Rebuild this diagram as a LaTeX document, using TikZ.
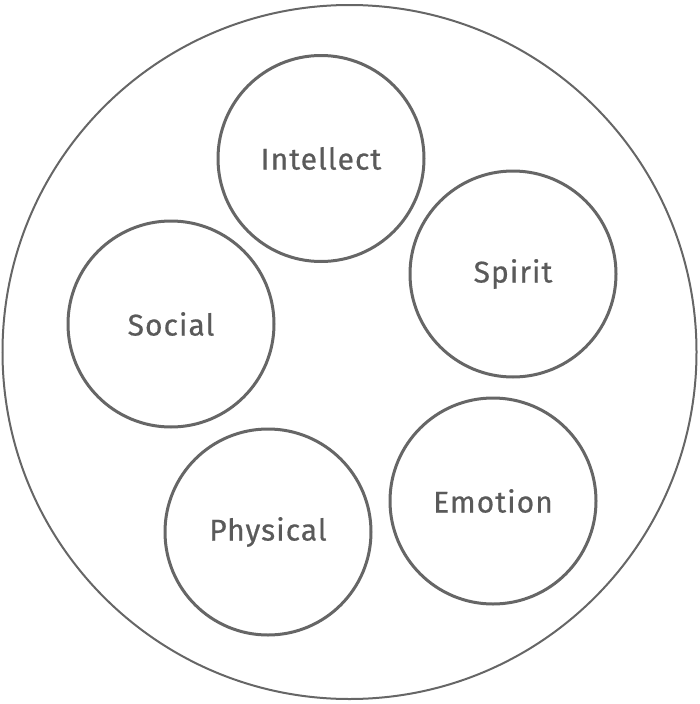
\documentclass[tikz,border=0pt]{standalone}
\usepackage{fontspec}
\setmainfont{Fira Sans}[LetterSpace=3.5,FakeBold=0.6]
\definecolor{ring}{HTML}{666666}
\definecolor{txt}{HTML}{5A5A5A}
\begin{document}
\begin{tikzpicture}[x=1pt,y=-1pt,
  outer/.style={circle,draw=ring,line width=2pt,minimum size=694pt,inner sep=0pt},
  inner/.style={circle,draw=ring,line width=3pt,minimum size=206pt,inner sep=0pt,text=txt,font=\fontsize{30}{34}\selectfont}]
\useasboundingbox (0,0) rectangle (699,704);
\node[outer] (all) at (349.5,352) {};
\node[inner] (intellect) at (321,158.5) {Intellect};
\node[inner] (spirit) at (513,274) {Spirit};
\node[inner] (social) at (171,324) {Social};
\node[inner] (emotion) at (493,501) {Emotion};
\node[inner] (physical) at (268,532) {Physical};
\end{tikzpicture}
\end{document}
